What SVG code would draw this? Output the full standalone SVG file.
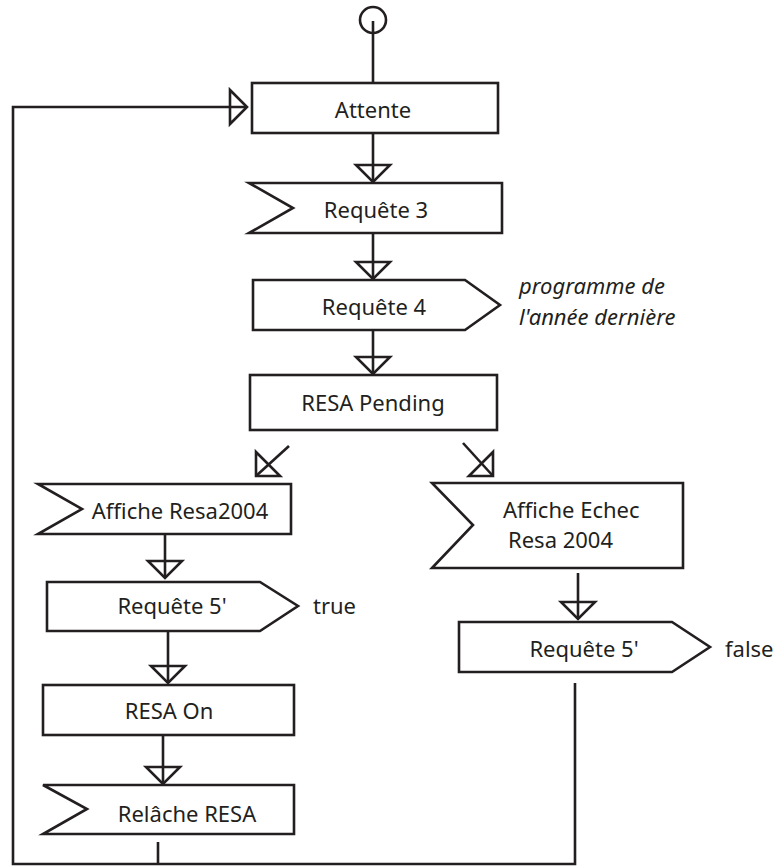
<svg xmlns="http://www.w3.org/2000/svg" xmlns:xlink="http://www.w3.org/1999/xlink" width="778" height="867" viewBox="0 0 778 867">
  <style>
    .shape { fill: #ffffff; stroke: #231f20; stroke-width: 2.6; stroke-linejoin: miter; }
    .line { fill: none; stroke: #231f20; stroke-width: 2.6; }
    .head { fill: none; stroke: #231f20; stroke-width: 2.6; stroke-linejoin: miter; }
    .label { font-family: "Noto Sans", "Open Sans", "Liberation Sans", sans-serif; font-size: 22px; fill: #231f20; }
    .note { font-family: "Noto Sans", "Open Sans", "Liberation Sans", sans-serif; font-size: 22px; fill: #231f20; font-style: italic; }
    .mid { text-anchor: middle; }
  </style>
  <defs>
    <!-- hollow triangle arrowhead, apex at origin, pointing down -->
    <polygon id="tri" points="-17,-17 17,-17 0,0"/>
  </defs>

  <!-- start -->
  <g id="start">
    <circle cx="373" cy="20" r="13" fill="none" stroke="#231f20" stroke-width="2.6"/>
  </g>

  <g id="attente">
    <rect class="shape" x="252" y="83" width="246" height="50"/>
    <text class="label mid" x="373" y="118">Attente</text>
  </g>

  <g id="requete3">
    <polygon class="shape" points="249,183 502,183 502,233 249,233 293,208"/>
    <text class="label mid" x="376" y="218">Requête 3</text>
  </g>

  <g id="requete4">
    <polygon class="shape" points="253,280 465,280 500,305 465,330 253,330"/>
    <text class="label mid" x="374" y="315">Requête 4</text>
  </g>

  <g id="note-requete4">
    <text class="note" x="519" y="294">programme de</text>
    <text class="note" x="519" y="325">l'année dernière</text>
  </g>

  <g id="resa-pending">
    <rect class="shape" x="250" y="375" width="247" height="55"/>
    <text class="label mid" x="373" y="411">RESA Pending</text>
  </g>

  <g id="affiche-resa">
    <polygon class="shape" points="38,484 291,484 291,534 38,534 82,509"/>
    <text class="label mid" x="180" y="519">Affiche Resa2004</text>
  </g>

  <g id="affiche-echec">
    <polygon class="shape" points="432,483 683,483 683,568 432,568 473,525"/>
    <text class="label" x="503" y="518">Affiche Echec</text>
    <text class="label" x="508" y="548">Resa 2004</text>
  </g>

  <g id="requete5-true">
    <polygon class="shape" points="47,582 260,582 298,606 260,631 47,631"/>
    <text class="label mid" x="172" y="614">Requête 5'</text>
    <text class="label" x="313" y="614">true</text>
  </g>

  <g id="requete5-false">
    <polygon class="shape" points="459,622 672,622 710,647 672,672 459,672"/>
    <text class="label mid" x="584" y="657">Requête 5'</text>
    <text class="label" x="725" y="657">false</text>
  </g>

  <g id="resa-on">
    <rect class="shape" x="43" y="685" width="251" height="50"/>
    <text class="label mid" x="169" y="719">RESA On</text>
  </g>

  <g id="relache-resa">
    <polygon class="shape" points="43,785 294,785 294,834 43,834 87,809"/>
    <text class="label mid" x="187" y="822">Relâche RESA</text>
  </g>

  <!-- connectors -->
  <g id="connectors">
    <line class="line" x1="373" y1="21" x2="373" y2="83"/>

    <line class="line" x1="373" y1="133" x2="373" y2="183"/>
    <use xlink:href="#tri" class="head" transform="translate(373,182)"/>

    <line class="line" x1="373" y1="233" x2="373" y2="280"/>
    <use xlink:href="#tri" class="head" transform="translate(373,279)"/>

    <line class="line" x1="373" y1="330" x2="373" y2="375"/>
    <use xlink:href="#tri" class="head" transform="translate(373,374)"/>

    <!-- branches out of RESA Pending -->
    <line class="line" x1="289" y1="446" x2="256" y2="476"/>
    <use xlink:href="#tri" class="head" transform="translate(256,476) rotate(45)"/>
    <line class="line" x1="463" y1="443" x2="493" y2="476"/>
    <use xlink:href="#tri" class="head" transform="translate(493,476) rotate(-45)"/>

    <line class="line" x1="165" y1="534" x2="165" y2="578"/>
    <use xlink:href="#tri" class="head" transform="translate(165,578)"/>

    <line class="line" x1="168" y1="631" x2="168" y2="683"/>
    <use xlink:href="#tri" class="head" transform="translate(168,683)"/>

    <line class="line" x1="163" y1="735" x2="163" y2="784"/>
    <use xlink:href="#tri" class="head" transform="translate(163,784)"/>

    <line class="line" x1="578" y1="573" x2="578" y2="619"/>
    <use xlink:href="#tri" class="head" transform="translate(578,619)"/>

    <!-- loop back to Attente -->
    <path class="line" d="M158,842 V864"/>
    <path class="line" d="M575,683 V864 H13 V107 H247"/>
    <use xlink:href="#tri" class="head" transform="translate(247,107) rotate(-90)"/>
  </g>
</svg>
